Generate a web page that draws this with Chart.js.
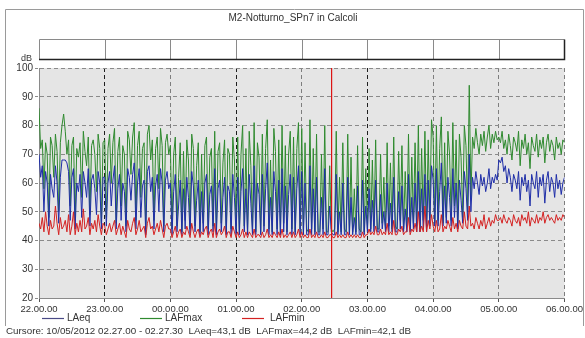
<!DOCTYPE html>
<html>
<head>
<meta charset="utf-8">
<title>M2-Notturno_SPn7 in Calcoli</title>
<script src="https://cdn.jsdelivr.net/npm/chart.js@4.4.1/dist/chart.umd.min.js"></script>
<style>
  html, body { margin: 0; padding: 0; background: #fff; }
  canvas { display: block; }
</style>
</head>
<body>
<canvas id="noiseChart" width="585" height="338"></canvas>
<script>
// one sample every 1.5 minutes, from 22.00.00 to 06.00.00
const stepMinutes = 1.5;
const hourLabels = ['22.00.00', '23.00.00', '00.00.00', '01.00.00', '02.00.00', '03.00.00', '04.00.00', '05.00.00', '06.00.00'];
const chartTitle = 'M2-Notturno_SPn7 in Calcoli';
const cursorMinute = 267; // 02.27.00
const cursorText = 'Cursore: 10/05/2012 02.27.00 - 02.27.30  LAeq=43,1 dB  LAFmax=44,2 dB  LAFmin=42,1 dB';

const lafmax = [
  86,72,75,58,74,70,48,76,73,62,77,71,50,74,80,84,78,70,75,52,73,76,47,72,69,74,55,78,71,66,76,49,73,75,70,57,77,72,46,74,
  75,48,72,77,60,74,79,46,71,76,52,73,70,45,78,75,63,76,81,47,73,78,55,72,74,44,77,80,68,75,47,72,76,58,79,73,45,74,77,70,
  73,44,70,76,45,62,74,43,71,47,75,68,44,77,72,45,66,74,43,70,46,73,76,44,69,72,45,78,43,71,74,46,67,75,43,72,70,44,76,68,
  44,76,43,70,80,45,72,43,78,66,44,81,43,74,69,43,77,45,72,82,44,68,43,79,71,44,75,43,80,46,73,43,70,78,44,76,43,72,81,44,
  79,43,74,44,43,82,44,72,43,77,43,43,70,44,80,43,43,66,44,43,44,78,43,62,43,74,44,43,77,43,69,43,58,43,73,44,43,76,43,65,
  44,72,44,68,45,75,44,44,70,46,62,44,74,45,67,44,76,45,44,71,47,73,44,64,45,77,44,69,46,74,45,80,44,72,47,78,45,75,48,82,
  76,46,80,47,72,83,46,74,48,78,70,47,81,52,75,46,77,69,48,80,73,50,94,55,76,72,79,74,70,77,73,78,71,76,80,72,77,74,78,75,
  76,74,78,72,75,70,77,73,68,76,74,71,78,66,75,72,77,70,74,65,76,73,71,77,69,75,72,76,67,74,77,71,75,73,68,76,72,74,70,75,
  74
];

const laeq = [
  70,62,66,50,64,60,45,63,58,55,66,60,46,62,68,68,68,67,64,47,62,65,44,60,57,63,48,64,60,55,65,45,61,63,58,49,64,60,44,62,
  62,45,60,64,52,61,66,44,58,63,47,60,57,43,65,62,54,63,67,44,60,65,48,59,61,42,64,66,57,62,44,59,63,50,65,60,43,61,64,58,
  60,42,57,63,43,52,61,42,58,44,62,55,42,64,59,43,54,61,42,57,43,60,63,42,56,59,43,65,42,58,61,43,55,62,42,59,57,42,63,55,
  42,62,42,57,65,43,58,42,63,53,42,66,42,60,56,42,63,43,58,67,42,55,42,64,57,42,61,42,65,43,59,42,56,63,42,62,42,58,66,42,
  64,42,60,42,42,66,42,58,42,62,42,42,55,42,65,42,42,52,43,42,42,63,42,50,42,60,42,42,62,42,55,42,48,42,59,42,42,61,42,52,
  43,58,43,54,43,61,43,43,56,44,50,43,60,43,53,43,62,43,43,57,44,59,43,51,43,63,43,55,44,60,43,64,43,58,44,63,43,61,45,66,
  61,45,65,45,57,67,45,59,46,62,55,45,65,48,60,44,61,54,46,64,58,47,70,50,62,58,64,60,56,63,59,62,57,60,65,58,62,60,63,61,
  68,67,69,64,66,60,65,62,57,63,61,58,64,54,62,59,63,57,61,52,63,60,58,64,55,62,59,63,53,61,64,57,62,60,55,63,58,61,56,60,
  62
];

const lafmin = [
  46,44,48,43,50,45,42,47,44,45,52,46,42,48,44,45,47,43,49,42,45,50,42,46,43,47,43,51,44,45,48,42,46,44,47,43,49,45,42,46,
  45,42,44,46,43,45,47,42,44,46,42,45,43,41,47,44,43,46,48,42,44,47,43,44,45,41,46,48,44,45,42,44,46,43,47,44,41,45,46,44,
  44,41,43,45,41,43,44,41,43,42,45,43,41,46,43,41,43,44,41,43,42,44,45,41,43,44,41,46,41,43,44,42,43,45,41,43,43,41,45,43,
  41,43,41,42,44,41,43,41,43,42,41,44,41,42,42,41,43,41,42,44,41,42,41,43,42,41,43,41,44,41,42,41,42,43,41,43,41,42,44,41,
  43,41,42,41,41,44,41,42,41,43,41,41,42,41,43,41,41,42,42,41,41,43,41,42,41,42,41,41,43,41,42,41,42,41,42,41,41,43,41,42,
  42,44,42,43,42,45,42,42,44,42,43,42,46,42,43,42,47,42,42,44,43,45,42,43,43,48,42,44,43,46,43,50,43,45,43,52,43,47,44,49,
  45,43,47,43,44,49,43,45,44,47,45,43,48,44,46,43,47,45,44,50,45,44,52,45,46,44,48,46,44,47,45,49,44,46,48,45,47,46,49,47,
  47,48,46,49,47,46,48,47,45,49,47,46,48,45,49,47,48,46,50,45,48,47,46,49,46,48,47,50,46,48,49,47,48,47,46,49,47,48,47,49,
  48
];

const FONT = "'Liberation Sans', Arial, sans-serif";
const TEXT = '#333';
const CURSOR_RED = 'rgb(220, 20, 20)';

const toPoints = (values) => values.map((v, i) => ({ x: i * stepMinutes, y: v }));

const decor = {
  id: 'decor',
  beforeDraw(chart) {
    const { ctx, chartArea: a } = chart;
    const xs = chart.scales.x;
    ctx.save();
    // plot background
    ctx.fillStyle = '#e5e5e5';
    ctx.fillRect(a.left, a.top, a.right - a.left, a.bottom - a.top);

    // outer frame
    ctx.strokeStyle = '#9a9a9a';
    ctx.lineWidth = 1;
    ctx.beginPath();
    ctx.moveTo(5.5, 326);
    ctx.lineTo(5.5, 9.5);
    ctx.lineTo(583.5, 9.5);
    ctx.lineTo(583.5, 326);
    ctx.stroke();

    // title
    ctx.fillStyle = TEXT;
    ctx.font = '10px ' + FONT;
    ctx.textAlign = 'center';
    ctx.textBaseline = 'middle';
    ctx.fillText(chartTitle, 293, 18);

    // empty band above the plot
    const bt = 39.5, bb = 59.5;
    ctx.strokeStyle = '#8a8a8a';
    ctx.beginPath();
    ctx.moveTo(a.left + 0.5, bb);
    ctx.lineTo(a.left + 0.5, bt);
    ctx.lineTo(a.right, bt);
    for (let h = 1; h < hourLabels.length - 1; h++) {
      const px = Math.round(xs.getPixelForValue(h * 60)) + 0.5;
      ctx.moveTo(px, bt);
      ctx.lineTo(px, bb);
    }
    ctx.stroke();
    ctx.strokeStyle = '#222';
    ctx.lineWidth = 1.5;
    ctx.beginPath();
    ctx.moveTo(a.left, bb);
    ctx.lineTo(a.right, bb);
    ctx.lineTo(a.right, bt);
    ctx.stroke();

    // unit
    ctx.lineWidth = 1;
    ctx.fillStyle = TEXT;
    ctx.font = '9px ' + FONT;
    ctx.textAlign = 'right';
    ctx.fillText('dB', 32, 59);
    ctx.restore();
  },
  afterDraw(chart) {
    const { ctx, chartArea: a } = chart;
    ctx.save();
    // cursor
    const cx = Math.round(chart.scales.x.getPixelForValue(cursorMinute));
    ctx.fillStyle = CURSOR_RED;
    ctx.fillRect(cx, a.top, 1.2, a.bottom - a.top);

    // legend + cursor readout
    const legendX = [42, 140, 242];
    ctx.font = '10px ' + FONT;
    ctx.textBaseline = 'middle';
    ctx.textAlign = 'left';
    chart.data.datasets.forEach((ds, i) => {
      const x = legendX[i];
      ctx.strokeStyle = ds.legendColor || ds.borderColor;
      ctx.lineWidth = 1.2;
      ctx.beginPath();
      ctx.moveTo(x, 318.5);
      ctx.lineTo(x + 22, 318.5);
      ctx.stroke();
      ctx.fillStyle = TEXT;
      ctx.fillText(ds.label, x + (i === 2 ? 28 : 25), 318.5);
    });
    ctx.font = '9.8px ' + FONT;
    ctx.fillText(cursorText, 6, 331.5);
    ctx.restore();
  }
};

new Chart(document.getElementById('noiseChart'), {
  type: 'line',
  data: {
    datasets: [
      { label: 'LAeq', data: toPoints(laeq), borderColor: '#1f2ea8', legendColor: '#4a4a86', order: 1 },
      { label: 'LAFmax', data: toPoints(lafmax), borderColor: '#2f8a2f', order: 2 },
      { label: 'LAFmin', data: toPoints(lafmin), borderColor: '#d42222', order: 0 }
    ]
  },
  options: {
    responsive: false,
    animation: false,
    devicePixelRatio: 1,
    layout: { padding: { left: 5, right: 18, top: 68, bottom: 26 } },
    elements: {
      line: { borderWidth: 1, tension: 0 },
      point: { radius: 0, hoverRadius: 0 }
    },
    plugins: {
      legend: { display: false },
      title: { display: false },
      tooltip: { enabled: false }
    },
    events: [],
    scales: {
      x: {
        type: 'linear',
        min: 0,
        max: 480,
        afterFit: (scale) => { scale.height = 14; },
        ticks: {
          stepSize: 60,
          autoSkip: false,
          maxRotation: 0,
          padding: 2,
          color: TEXT,
          font: { family: FONT, size: 9.5 },
          callback: (value) => hourLabels[value / 60]
        },
        grid: {
          color: (c) => (c.index === 1 || c.index === 3 || c.index === 5) ? '#1e1e1e' : '#7e7e7e',
          tickColor: '#555',
          tickLength: 4,
          tickBorderDash: []
        },
        border: { display: true, color: '#8a8a8a', dash: [4, 3] }
      },
      y: {
        min: 20,
        max: 100,
        afterFit: (scale) => { scale.width = 34; },
        ticks: {
          stepSize: 10,
          padding: 2,
          color: TEXT,
          font: { family: FONT, size: 10 }
        },
        grid: {
          color: '#8a8a8a',
          tickColor: '#8a8a8a',
          tickLength: 4,
          tickBorderDash: [3, 2]
        },
        border: { display: true, color: '#8a8a8a', dash: [4, 3] }
      }
    }
  },
  plugins: [decor]
});
</script>
</body>
</html>
